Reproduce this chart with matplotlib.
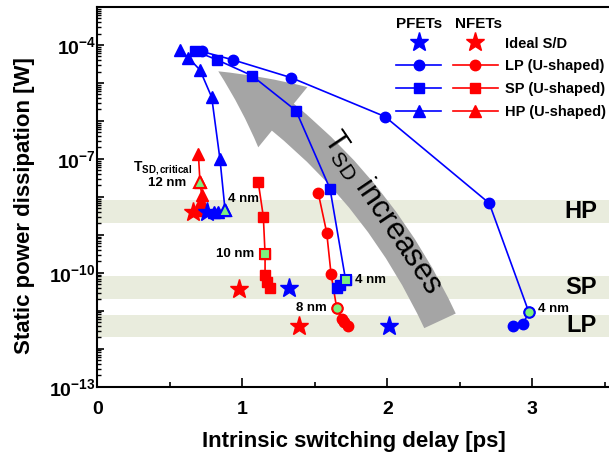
import math

import matplotlib
matplotlib.use("Agg")
import matplotlib.pyplot as plt
from matplotlib.lines import Line2D
from matplotlib.patches import FancyArrowPatch
from matplotlib.ticker import FixedLocator, FuncFormatter, MultipleLocator, NullFormatter

plt.rcParams["font.family"] = ["Liberation Sans", "DejaVu Sans"]
plt.rcParams["font.weight"] = "bold"
plt.rcParams["mathtext.fontset"] = "custom"
plt.rcParams["mathtext.rm"] = "Liberation Sans"
plt.rcParams["mathtext.bf"] = "Liberation Sans:bold"
plt.rcParams["mathtext.it"] = "Liberation Sans:italic"

BLUE = "#0000ff"
RED = "#ff0000"
GREEN = "#7ef07e"
BAND = "#e9ecdd"
ARROW = "#a5a5a5"

# PFETs, U-shaped S/D (delay in ps, power in W)
p_lp_delay = [0.720, 0.938, 1.336, 1.984, 2.703, 2.977, 2.934, 2.865]
p_lp_power = [6.75e-5, 4.03e-5, 1.38e-5, 1.30e-6, 6.8e-9, 9.0e-12, 4.5e-12, 4.0e-12]
p_sp_delay = [0.674, 0.828, 1.065, 1.370, 1.605, 1.713, 1.674, 1.651]
p_sp_power = [6.95e-5, 4.03e-5, 1.57e-5, 1.87e-6, 1.63e-8, 6.3e-11, 4.8e-11, 4.0e-11]
p_hp_delay = [0.568, 0.628, 0.708, 0.789, 0.846, 0.881, 0.834, 0.805]
p_hp_power = [7.4e-5, 4.6e-5, 2.2e-5, 4.2e-6, 9.8e-8, 4.55e-9, 4.1e-9, 4.0e-9]

# NFETs, U-shaped S/D
n_lp_delay = [1.524, 1.582, 1.612, 1.651, 1.686, 1.700, 1.727]
n_lp_power = [1.25e-8, 1.15e-9, 9.4e-11, 1.18e-11, 6.05e-12, 5.0e-12, 4.0e-12]
n_sp_delay = [1.110, 1.145, 1.157, 1.157, 1.170, 1.191]
n_sp_power = [2.44e-8, 3.03e-9, 3.16e-10, 8.9e-11, 5.8e-11, 4.0e-11]
n_hp_delay = [0.697, 0.708, 0.720, 0.712, 0.705, 0.694]
n_hp_power = [1.36e-7, 2.53e-8, 1.13e-8, 7.9e-9, 5.8e-9, 4.5e-9]

# index of the highlighted (critical T_SD) point in each series
p_lp_crit, p_sp_crit, p_hp_crit = 5, 5, 5
n_lp_crit, n_sp_crit, n_hp_crit = 3, 2, 1

# ideal S/D
p_ideal_delay = [0.759, 1.324, 2.012]
p_ideal_power = [4.1e-9, 3.95e-11, 3.9e-12]
n_ideal_delay = [0.658, 0.979, 1.393]
n_ideal_power = [4.1e-9, 3.8e-11, 3.9e-12]

# target bands
band_names = ["HP", "SP", "LP"]
band_low = [2.0e-9, 2.1e-11, 2.0e-12]
band_high = [8.1e-9, 8.3e-11, 7.9e-12]
band_label_y = [4.0e-9, 4.0e-11, 4.0e-12]

decades = list(range(-13, -2))
labelled_decades = [-4, -7, -10, -13]

fig = plt.figure(figsize=(6.09, 4.58), dpi=100)
ax = fig.add_axes([97.3 / 609, 71.3 / 458, 522 / 609, 379.7 / 458])

for lo, hi, name, yl in zip(band_low, band_high, band_names, band_label_y):
    ax.axhspan(lo, hi, color=BAND, lw=0, zorder=0.5)
    ax.text(3.336, yl, name, fontsize=17, fontweight="bold", ha="center", va="center")

arrow = FancyArrowPatch((0.6565, 0.1735), (0.2318, 0.8306), transform=ax.transAxes,
                        arrowstyle="simple,head_length=57,head_width=56,tail_width=25",
                        connectionstyle="arc3,rad=0.15", color=ARROW, lw=0,
                        shrinkA=0, shrinkB=0, zorder=1)
ax.add_patch(arrow)
ax.text(0.545, 0.46, r"$\mathregular{T_{SD}}$ increases", transform=ax.transAxes,
        fontsize=22, fontweight="normal", rotation=-56, rotation_mode="anchor",
        ha="center", va="center", zorder=1.2)

series = [
    (n_lp_delay, n_lp_power, RED, "o", 7.5, n_lp_crit),
    (n_sp_delay, n_sp_power, RED, "s", 6.5, n_sp_crit),
    (n_hp_delay, n_hp_power, RED, "^", 8.5, n_hp_crit),
    (p_lp_delay, p_lp_power, BLUE, "o", 7.5, p_lp_crit),
    (p_sp_delay, p_sp_power, BLUE, "s", 6.5, p_sp_crit),
    (p_hp_delay, p_hp_power, BLUE, "^", 8.5, p_hp_crit),
]
for xs, ys, c, m, ms, ic in series:
    ax.plot(xs, ys, color=c, marker=m, ms=ms, lw=1.2, mec=c, mfc=c, zorder=3)
    ax.plot([xs[ic]], [ys[ic]], ls="none", marker=m, ms=ms, mfc=GREEN, mec=c,
            mew=1.5, zorder=4)

ax.plot(n_ideal_delay, n_ideal_power, ls="none", marker="*", ms=14, color=RED, zorder=5)
ax.plot(p_ideal_delay, p_ideal_power, ls="none", marker="*", ms=14, color=BLUE, zorder=5)

ann = dict(fontsize=9.5, fontweight="bold", va="center")
ax.text(0.903, 8.9e-9, "4 nm", ha="left", **ann)
ax.text(1.081, 3.1e-10, "10 nm", ha="right", **ann)
ax.text(1.777, 6.3e-11, "4 nm", ha="left", **ann)
ax.text(1.582, 1.17e-11, "8 nm", ha="right", **ann)
ax.text(3.04, 1.1e-11, "4 nm", ha="left", **ann)
ax.text(0.612, 2.38e-8, "12 nm", ha="right", **ann)
ax.text(0.651, 5.8e-8, r"$\mathbf{T_{SD,critical}}$", ha="right", fontsize=10, va="center")

ax.set_yscale("log")
ax.set_xlim(0, 3.6)
ax.set_ylim(1e-13, 1e-3)

ax.yaxis.set_major_locator(FixedLocator([10.0 ** k for k in decades]))
ax.yaxis.set_minor_locator(FixedLocator([m * 10.0 ** k for k in decades[:-1]
                                         for m in range(2, 10)]))
ax.yaxis.set_minor_formatter(NullFormatter())


def ylab(v, pos):
    e = int(round(math.log10(v)))
    if e in labelled_decades:
        return r"$\mathbf{10^{%d}}$" % e
    return ""


ax.yaxis.set_major_formatter(FuncFormatter(ylab))
ax.xaxis.set_major_locator(MultipleLocator(1))
ax.xaxis.set_minor_locator(MultipleLocator(0.5))

ax.tick_params(axis="x", which="major", direction="in", length=6.5, width=1.2,
               labelsize=14, pad=10)
ax.tick_params(axis="x", which="minor", direction="in", length=3.6, width=1.2)
ax.tick_params(axis="y", which="major", direction="in", length=5, width=1.2,
               labelsize=14, pad=1)
ax.tick_params(axis="y", which="minor", direction="in", length=3, width=1.0)
for lab in ax.get_xticklabels():
    lab.set_fontweight("bold")

for s in ["left", "bottom", "top"]:
    ax.spines[s].set_linewidth(1.5)
ax.spines["right"].set_visible(False)

ax.set_xlabel("Intrinsic switching delay [ps]", fontsize=16, fontweight="bold")
ax.set_ylabel("Static power dissipation [W]", fontsize=16, fontweight="bold")
ax.xaxis.set_label_coords(0.492, -0.145)
ax.xaxis.label.set_va("center")
ax.yaxis.set_label_coords(-0.14, 0.476)
ax.yaxis.label.set_va("center")

# legend: PFET handles in first column, NFET handles + labels in second
handles = [
    Line2D([], [], ls="none", marker="*", ms=14, color=BLUE),
    Line2D([], [], color=BLUE, marker="o", ms=7.5, lw=1.2),
    Line2D([], [], color=BLUE, marker="s", ms=6.5, lw=1.2),
    Line2D([], [], color=BLUE, marker="^", ms=8.5, lw=1.2),
    Line2D([], [], ls="none", marker="*", ms=14, color=RED),
    Line2D([], [], color=RED, marker="o", ms=7.5, lw=1.2),
    Line2D([], [], color=RED, marker="s", ms=6.5, lw=1.2),
    Line2D([], [], color=RED, marker="^", ms=8.5, lw=1.2),
]
labels = ["", "", "", "", "Ideal S/D", "LP (U-shaped)", "SP (U-shaped)", "HP (U-shaped)"]
leg = ax.legend(handles, labels, ncol=2, frameon=False, loc="upper left",
                bbox_to_anchor=(396 / 609, 1 - 36.5 / 458), bbox_transform=fig.transFigure,
                borderpad=0, borderaxespad=0, handlelength=3.1, handletextpad=0.46,
                columnspacing=0.34, labelspacing=0.6,
                prop={"size": 10.5, "weight": "bold"})
ax.text(0.617, 0.955, "PFETs", transform=ax.transAxes, fontsize=11,
        fontweight="bold", ha="center", va="center")
ax.text(0.730, 0.955, "NFETs", transform=ax.transAxes, fontsize=11,
        fontweight="bold", ha="center", va="center")

fig.savefig("out.png", dpi=100)
